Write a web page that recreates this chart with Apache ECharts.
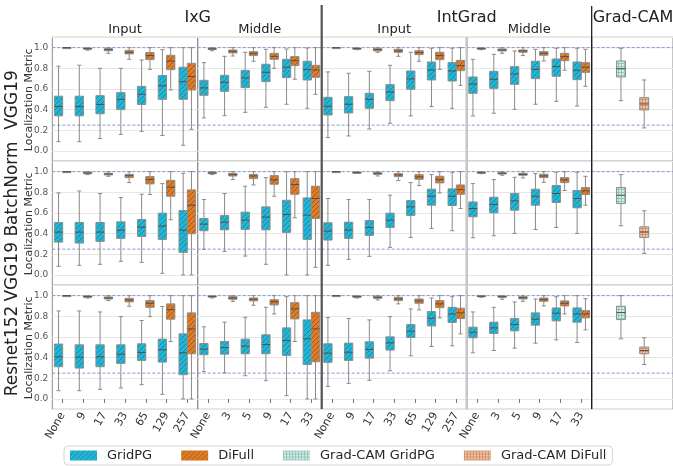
<!DOCTYPE html>
<html><head><meta charset="utf-8">
<script src="https://cdn.jsdelivr.net/npm/echarts@6/dist/echarts.min.js"></script>
<style>html,body{margin:0;padding:0;background:#fff}#c{width:673px;height:466px}</style>
</head><body><div id="c"></div>
<script>
// ---------- categories ----------
const inputCats = ['None', '9', '17', '33', '65', '129', '257'];
const middleCats = ['None', '3', '5', '9', '17', '33'];
const gradcamCats = ['Grad-CAM'];
const rowLabels = ['VGG19', 'VGG19 BatchNorm', 'Resnet152'];
const refLines = [1.0, 0.25];

// ---------- values: [min, q1, median, q3, max] ----------
// VGG19
const vgg19_ixgIn_gridpg = [[0.09,0.34,0.43,0.53,0.82],[0.09,0.34,0.43,0.53,0.83],[0.12,0.36,0.45,0.535,0.80],[0.16,0.40,0.50,0.565,0.80],[0.19,0.45,0.55,0.625,0.88],[0.15,0.50,0.63,0.73,0.98],[0.055,0.50,0.67,0.81,1.0]];
const vgg19_ixgIn_difull = [[0.995,1.0,1.0,1.0,1.0],[0.975,0.985,0.99,0.995,1.0],[0.945,0.97,0.98,0.99,1.0],[0.887,0.939,0.955,0.974,1.0],[0.79,0.884,0.923,0.952,1.0],[0.59,0.787,0.871,0.926,1.0],[0.21,0.59,0.72,0.848,1.0]];
const vgg19_ixgMid_gridpg = [[0.32,0.539,0.61,0.684,0.855],[0.342,0.577,0.665,0.732,0.916],[0.374,0.613,0.706,0.78,0.955],[0.423,0.671,0.761,0.839,0.984],[0.452,0.71,0.81,0.887,0.987],[0.413,0.687,0.79,0.868,0.997]];
const vgg19_ixgMid_difull = [[0.97,0.983,0.988,0.992,1.0],[0.919,0.948,0.964,0.977,1.0],[0.868,0.923,0.945,0.961,1.0],[0.80,0.887,0.916,0.945,1.0],[0.694,0.826,0.874,0.913,1.0],[0.548,0.713,0.784,0.829,1.0]];
const vgg19_igIn_gridpg = [[0.129,0.348,0.432,0.519,0.765],[0.145,0.368,0.452,0.526,0.752],[0.213,0.413,0.50,0.558,0.771],[0.268,0.487,0.571,0.642,0.829],[0.339,0.597,0.697,0.774,0.955],[0.429,0.687,0.784,0.861,0.994],[0.413,0.677,0.774,0.855,0.994]];
const vgg19_igIn_difull = [[0.998,1.0,1.0,1.0,1.0],[0.98,0.985,0.99,0.995,1.0],[0.955,0.968,0.981,0.994,1.0],[0.916,0.955,0.968,0.984,1.0],[0.868,0.932,0.952,0.971,1.0],[0.79,0.884,0.923,0.955,1.0],[0.635,0.777,0.826,0.877,1.0]];
const vgg19_igMid_gridpg = [[0.339,0.558,0.648,0.716,0.887],[0.365,0.606,0.694,0.771,0.935],[0.403,0.645,0.745,0.816,0.968],[0.452,0.70,0.79,0.868,0.984],[0.48,0.723,0.816,0.89,0.994],[0.435,0.69,0.781,0.861,0.994]];
const vgg19_igMid_difull = [[0.98,0.985,0.99,0.995,1.0],[0.945,0.968,0.977,0.987,1.0],[0.923,0.955,0.968,0.977,1.0],[0.871,0.926,0.945,0.961,1.0],[0.781,0.874,0.913,0.945,1.0],[0.626,0.761,0.81,0.855,0.984]];
const vgg19_gradcam_gridpg = [[0.487,0.716,0.797,0.871,0.994]];
const vgg19_gradcam_difull = [[0.223,0.397,0.455,0.516,0.687]];
// VGG19 BatchNorm
const vgg19bn_ixgIn_gridpg = [[0.084,0.318,0.415,0.508,0.794],[0.093,0.309,0.415,0.508,0.813],[0.103,0.325,0.415,0.508,0.788],[0.132,0.354,0.434,0.514,0.749],[0.122,0.373,0.463,0.537,0.781],[0.016,0.344,0.473,0.598,0.884],[0.0,0.219,0.434,0.624,0.984]];
const vgg19bn_ixgIn_difull = [[0.998,1.0,1.0,1.0,1.0],[0.971,0.98,0.987,0.994,1.0],[0.955,0.968,0.977,0.984,1.0],[0.894,0.942,0.961,0.974,1.0],[0.778,0.881,0.923,0.952,1.0],[0.534,0.762,0.849,0.916,1.0],[0.0,0.399,0.675,0.823,1.0]];
const vgg19bn_ixgMid_gridpg = [[0.248,0.428,0.492,0.547,0.73],[0.228,0.437,0.511,0.576,0.788],[0.183,0.441,0.531,0.608,0.859],[0.103,0.437,0.56,0.659,0.942],[0.0,0.412,0.585,0.723,1.0],[0.0,0.344,0.579,0.746,1.0]];
const vgg19bn_ixgMid_difull = [[0.971,0.98,0.987,0.994,1.0],[0.923,0.958,0.971,0.984,1.0],[0.871,0.932,0.958,0.974,1.0],[0.762,0.878,0.92,0.961,1.0],[0.553,0.781,0.875,0.932,1.0],[0.074,0.547,0.74,0.859,1.0]];
const vgg19bn_igIn_gridpg = [[0.093,0.338,0.424,0.505,0.74],[0.151,0.354,0.434,0.511,0.73],[0.18,0.383,0.46,0.527,0.73],[0.267,0.46,0.531,0.598,0.772],[0.363,0.576,0.659,0.72,0.894],[0.45,0.675,0.762,0.83,0.971],[0.428,0.672,0.762,0.833,0.994]];
const vgg19bn_igIn_difull = [[0.998,1.0,1.0,1.0,1.0],[0.984,0.987,0.99,0.994,1.0],[0.958,0.974,0.984,0.99,1.0],[0.913,0.952,0.968,0.98,1.0],[0.865,0.926,0.949,0.971,1.0],[0.794,0.891,0.923,0.955,1.0],[0.643,0.781,0.826,0.871,1.0]];
const vgg19bn_igMid_gridpg = [[0.36,0.563,0.643,0.707,0.884],[0.379,0.601,0.682,0.752,0.923],[0.402,0.627,0.717,0.788,0.945],[0.44,0.675,0.762,0.83,0.981],[0.46,0.701,0.788,0.865,0.994],[0.402,0.65,0.74,0.817,0.994]];
const vgg19bn_igMid_difull = [[0.98,0.987,0.99,0.994,1.0],[0.965,0.977,0.984,0.99,1.0],[0.939,0.965,0.974,0.984,1.0],[0.897,0.942,0.958,0.974,1.0],[0.817,0.894,0.92,0.942,1.0],[0.675,0.778,0.814,0.846,0.955]];
const vgg19bn_gradcam_gridpg = [[0.476,0.691,0.772,0.846,0.971]];
const vgg19bn_gradcam_difull = [[0.209,0.363,0.415,0.466,0.621]];
// Resnet152
const resnet_ixgIn_gridpg = [[0.08,0.312,0.408,0.531,0.852],[0.08,0.299,0.405,0.524,0.852],[0.093,0.312,0.408,0.524,0.842],[0.106,0.344,0.434,0.524,0.797],[0.138,0.373,0.45,0.534,0.759],[0.045,0.357,0.476,0.579,0.894],[0.0,0.235,0.447,0.63,1.0]];
const resnet_ixgIn_difull = [[0.998,1.0,1.0,1.0,1.0],[0.977,0.984,0.99,0.997,1.0],[0.952,0.968,0.977,0.987,1.0],[0.897,0.939,0.958,0.974,1.0],[0.797,0.887,0.926,0.952,1.0],[0.556,0.772,0.865,0.92,1.0],[0.0,0.437,0.678,0.833,1.0]];
const resnet_ixgMid_gridpg = [[0.264,0.428,0.482,0.537,0.698],[0.254,0.434,0.498,0.556,0.743],[0.225,0.437,0.511,0.579,0.791],[0.177,0.437,0.527,0.621,0.887],[0.032,0.421,0.566,0.688,0.99],[0.0,0.334,0.582,0.765,1.0]];
const resnet_ixgMid_difull = [[0.977,0.987,0.99,0.997,1.0],[0.945,0.965,0.977,0.99,1.0],[0.907,0.949,0.965,0.977,1.0],[0.823,0.91,0.942,0.961,1.0],[0.556,0.775,0.871,0.932,1.0],[0.0,0.36,0.678,0.839,1.0]];
const resnet_igIn_gridpg = [[0.122,0.354,0.444,0.534,0.788],[0.151,0.373,0.453,0.54,0.778],[0.18,0.395,0.479,0.553,0.765],[0.273,0.473,0.543,0.601,0.797],[0.418,0.595,0.656,0.72,0.871],[0.508,0.707,0.781,0.846,0.977],[0.514,0.74,0.823,0.887,0.99]];
const resnet_igIn_difull = [[0.998,1.0,1.0,1.0,1.0],[0.977,0.984,0.99,0.997,1.0],[0.958,0.974,0.984,0.994,1.0],[0.92,0.952,0.968,0.984,1.0],[0.862,0.926,0.949,0.968,1.0],[0.785,0.884,0.92,0.952,1.0],[0.63,0.778,0.833,0.878,1.0]];
const resnet_igMid_gridpg = [[0.447,0.592,0.646,0.695,0.842],[0.469,0.633,0.688,0.743,0.887],[0.492,0.659,0.72,0.778,0.939],[0.54,0.714,0.772,0.833,0.968],[0.572,0.756,0.83,0.881,0.99],[0.547,0.743,0.823,0.881,1.0]];
const resnet_igMid_difull = [[0.984,0.99,0.994,1.0,1.0],[0.965,0.984,0.99,0.997,1.0],[0.945,0.968,0.981,0.99,1.0],[0.9,0.945,0.961,0.977,1.0],[0.823,0.9,0.926,0.949,1.0],[0.669,0.785,0.823,0.855,0.971]];
const resnet_gradcam_gridpg = [[0.582,0.768,0.836,0.897,1.0]];
const resnet_gradcam_difull = [[0.334,0.437,0.469,0.502,0.592]];

// ---------- styling helpers ----------
function hatch(bg, line) {
  const s = 5, c = document.createElement('canvas');
  c.width = s; c.height = s;
  const g = c.getContext('2d');
  g.fillStyle = bg; g.fillRect(0, 0, s, s);
  g.strokeStyle = line; g.lineWidth = 1;
  g.beginPath();
  g.moveTo(0, s); g.lineTo(s, 0);
  g.moveTo(-1, 1); g.lineTo(1, -1);
  g.moveTo(s - 1, s + 1); g.lineTo(s + 1, s - 1);
  g.stroke();
  return { image: c, repeat: 'repeat' };
}
function gridPat(bg, line) {
  const s = 3, c = document.createElement('canvas');
  c.width = s; c.height = s;
  const g = c.getContext('2d');
  g.fillStyle = bg; g.fillRect(0, 0, s, s);
  g.fillStyle = line; g.fillRect(0, 0, s, 1); g.fillRect(0, 0, 1, s);
  return { image: c, repeat: 'repeat' };
}
const FILL = {
  'GridPG': hatch('#22b6d6', '#168aa6'),
  'DiFull': hatch('#de7d26', '#a8581a'),
  'Grad-CAM GridPG': gridPat('#d6ece7', '#93c6bc'),
  'Grad-CAM DiFull': gridPat('#f0c3a4', '#d3936f')
};
const EDGE = '#8c8c8c', MEDIAN = '#505050', WHISK = '#8a8a8a', REFCOL = '#8496d4';

function renderBox(offset, wFrac, fill) {
  return function (params, api) {
    const i = api.value(0);
    const band = api.size([1, 0])[0];
    const cx = api.coord([i, 0])[0] + offset * band;
    const w = wFrac * band;
    const y = k => api.coord([i, api.value(k)])[1];
    const yMin = y(1), yQ1 = y(2), yMed = y(3), yQ3 = y(4), yMax = y(5);
    const cw = w * 0.5;
    const ws = { stroke: WHISK, lineWidth: 1 };
    return { type: 'group', children: [
      { type: 'line', shape: { x1: cx, y1: yQ3, x2: cx, y2: yMax }, style: ws },
      { type: 'line', shape: { x1: cx, y1: yQ1, x2: cx, y2: yMin }, style: ws },
      { type: 'line', shape: { x1: cx - cw / 2, y1: yMax, x2: cx + cw / 2, y2: yMax }, style: ws },
      { type: 'line', shape: { x1: cx - cw / 2, y1: yMin, x2: cx + cw / 2, y2: yMin }, style: ws },
      { type: 'rect', shape: { x: cx - w / 2, y: yQ3, width: w, height: Math.max(yQ1 - yQ3, 1) }, style: { fill: fill, stroke: EDGE, lineWidth: 1 } },
      { type: 'line', shape: { x1: cx - w / 2, y1: yMed, x2: cx + w / 2, y2: yMed }, style: { stroke: MEDIAN, lineWidth: 1 } }
    ]};
  };
}
function renderRef(params, api) {
  const cs = params.coordSys;
  const yy = api.coord([0, api.value(1)])[1];
  return { type: 'line', shape: { x1: cs.x, y1: yy, x2: cs.x + cs.width, y2: yy },
    style: { stroke: REFCOL, lineWidth: 1, lineDash: [3, 2] } };
}

// ---------- layout ----------
const columns = [
  { left: 52.3, width: 145.4, cats: inputCats },
  { left: 197.7, width: 124, cats: middleCats },
  { left: 321.7, width: 145, cats: inputCats },
  { left: 466.7, width: 125, cats: middleCats },
  { left: 591.7, width: 82, cats: gradcamCats }
];
const rowTops = [37.3, 161.3, 285.3];
const rowH = 124;

const tableRows = [
  [[vgg19_ixgIn_gridpg, vgg19_ixgIn_difull], [vgg19_ixgMid_gridpg, vgg19_ixgMid_difull], [vgg19_igIn_gridpg, vgg19_igIn_difull], [vgg19_igMid_gridpg, vgg19_igMid_difull], [vgg19_gradcam_gridpg, vgg19_gradcam_difull]],
  [[vgg19bn_ixgIn_gridpg, vgg19bn_ixgIn_difull], [vgg19bn_ixgMid_gridpg, vgg19bn_ixgMid_difull], [vgg19bn_igIn_gridpg, vgg19bn_igIn_difull], [vgg19bn_igMid_gridpg, vgg19bn_igMid_difull], [vgg19bn_gradcam_gridpg, vgg19bn_gradcam_difull]],
  [[resnet_ixgIn_gridpg, resnet_ixgIn_difull], [resnet_ixgMid_gridpg, resnet_ixgMid_difull], [resnet_igIn_gridpg, resnet_igIn_difull], [resnet_igMid_gridpg, resnet_igMid_difull], [resnet_gradcam_gridpg, resnet_gradcam_difull]]
];

const grid = [], xAxis = [], yAxis = [], series = [];
let gi = 0;
rowTops.forEach((top, r) => {
  columns.forEach((col, c) => {
    const bottomRow = r === 2, showX = bottomRow && c < 4;
    grid.push({ left: col.left, top: top, width: col.width, height: rowH, show: true, borderColor: '#8c8c8c', borderWidth: 1 });
    xAxis.push({ type: 'category', gridIndex: gi, data: col.cats, boundaryGap: true,
      axisLine: { show: false }, splitLine: { show: false },
      axisTick: { show: showX, alignWithLabel: true, length: 4, lineStyle: { color: '#777' } },
      axisLabel: { show: showX, rotate: 60, fontSize: 11, color: '#333', margin: 4, fontFamily: 'DejaVu Sans' } });
    yAxis.push({ type: 'value', gridIndex: gi, min: -0.1, max: 1.1, splitNumber: 6,
      axisLine: { show: false }, axisTick: { show: false },
      axisLabel: { show: c === 0, fontSize: 9, color: '#555', margin: 4, fontFamily: 'DejaVu Sans',
        formatter: v => (v < -0.001 || v > 1.001) ? '' : v.toFixed(1) },
      splitLine: { show: true, lineStyle: { color: '#e6e6e6', width: 1 } } });
    const pair = tableRows[r][c];
    const isCam = c === 4;
    const names = isCam ? ['Grad-CAM GridPG', 'Grad-CAM DiFull'] : ['GridPG', 'DiFull'];
    const offs = isCam ? [-0.14, 0.146] : [-0.2, 0.2];
    const wf = isCam ? 0.11 : 0.4;
    // reference lines (chance level 0.25 and perfect 1.0)
    series.push({ type: 'custom', name: 'ref', xAxisIndex: gi, yAxisIndex: gi, silent: true, z: 2,
      renderItem: renderRef, encode: { x: 0, y: 1 },
      data: refLines.map(v => [0, v]) });
    names.forEach((nm, k) => {
      series.push({ type: 'custom', name: nm, xAxisIndex: gi, yAxisIndex: gi, z: 3,
        itemStyle: { color: FILL[nm], borderColor: EDGE },
        renderItem: renderBox(offs[k], wf, FILL[nm]),
        encode: { x: 0, y: [1, 2, 3, 4, 5] },
        data: pair[k].map((v, i) => [i].concat(v)) });
    });
    gi++;
  });
});

// ---------- texts & separators ----------
const FF = 'DejaVu Sans';
const graphic = [];
function txt(x, y, s, size, rot, color) {
  graphic.push({ type: 'text', x: x, y: y, rotation: rot || 0, silent: true, z: 10,
    style: { text: s, fontSize: size, fontFamily: FF, fill: color || '#222', textAlign: 'center', textVerticalAlign: 'middle' } });
}
txt(197.7, 17.5, 'IxG', 16);
txt(466.7, 17.5, 'IntGrad', 16);
txt(633, 17.5, 'Grad-CAM', 16);
txt(125, 30, 'Input', 13); txt(259.7, 30, 'Middle', 13);
txt(394.2, 30, 'Input', 13); txt(529.2, 30, 'Middle', 13);
const rowLabelY = [100, 221.5, 351];
rowLabels.forEach((s, r) => {
  txt(13, rowLabelY[r], s, 17, Math.PI / 2, '#222');
  txt(29, rowTops[r] + 62.5, 'Localization Metric', 11, Math.PI / 2, '#333');
});
function vline(x, y1, y2, color, w) {
  graphic.push({ type: 'line', silent: true, z: 20, shape: { x1: x, y1: y1, x2: x, y2: y2 }, style: { stroke: color, lineWidth: w } });
}
vline(466.7, 37.3, 409, '#c6c6c6', 2.5);
vline(321.7, 5, 409, '#555', 2.2);
vline(591.7, 6, 409, '#111', 1.2);

const chart = echarts.init(document.getElementById('c'), null, { renderer: 'canvas' });
chart.setOption({
  animation: false,
  backgroundColor: '#fff',
  textStyle: { fontFamily: FF },
  grid, xAxis, yAxis, series, graphic,
  legend: { data: ['GridPG', 'DiFull', 'Grad-CAM GridPG', 'Grad-CAM DiFull'], left: 64, top: 446,
    icon: 'rect', itemWidth: 27, itemHeight: 10, itemGap: 29, padding: [3, 6],
    borderColor: '#d5d5d5', borderWidth: 1, borderRadius: 4, selectedMode: false,
    itemStyle: { borderWidth: 0 },
    textStyle: { fontSize: 13, color: '#262626', fontFamily: FF, padding: [0, 0, 0, 5] } }
});
</script></body></html>
